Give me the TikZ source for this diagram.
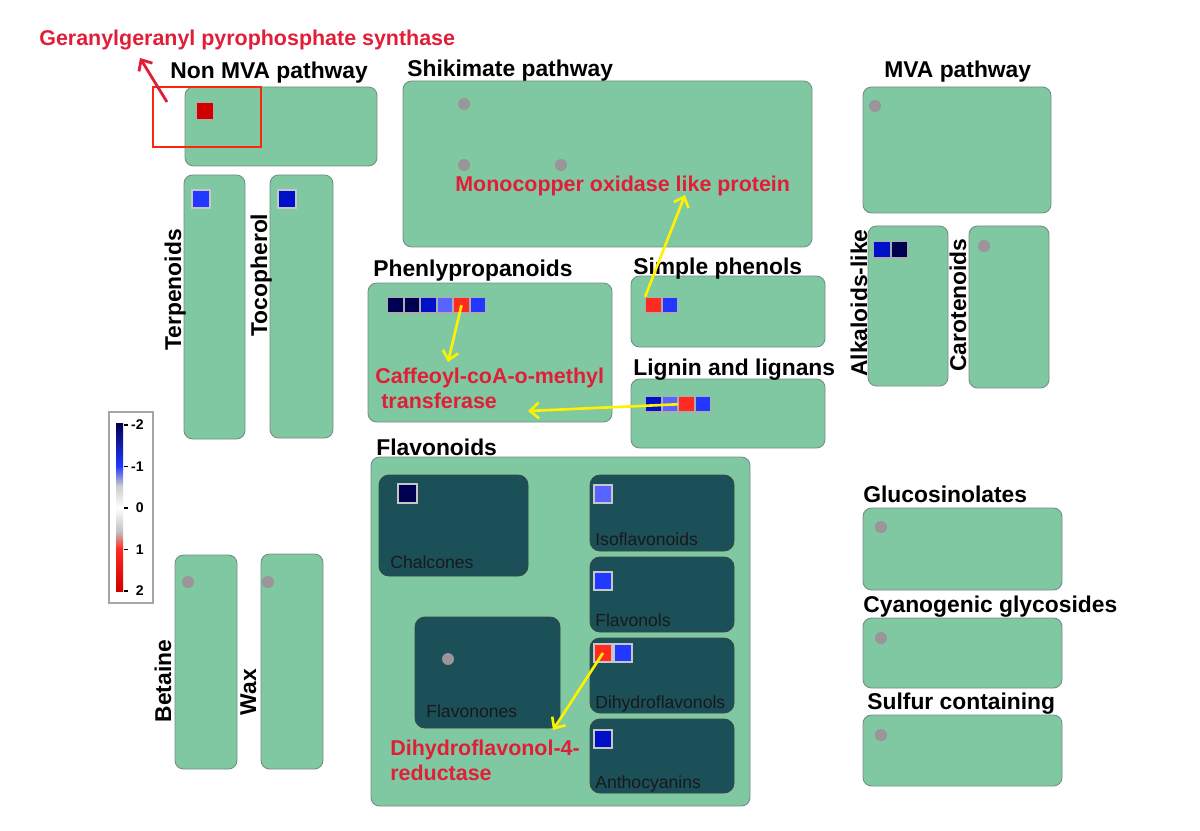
\documentclass[tikz,border=0pt]{standalone}
\usepackage{fontspec}
\setmainfont{Liberation Sans}
\usetikzlibrary{positioning,fit,arrows.meta}
\definecolor{boxgreen}{RGB}{127,200,162}
\definecolor{boxline}{RGB}{120,140,130}
\definecolor{darkteal}{RGB}{27,80,88}
\definecolor{dotgrey}{RGB}{155,148,152}
\definecolor{hitred}{RGB}{225,30,55}
\definecolor{framered}{RGB}{250,40,10}
\definecolor{navy}{RGB}{0,0,80}
\definecolor{darkblue}{RGB}{0,16,200}
\definecolor{midblue}{RGB}{32,56,255}
\definecolor{lightblue}{RGB}{88,100,255}
\definecolor{upred}{RGB}{255,42,32}
\definecolor{deepred}{RGB}{208,0,0}
\begin{document}
\begin{tikzpicture}[x=0.02cm,y=-0.02cm,
  pbox/.style={draw=boxline,fill=boxgreen,rounded corners=0.17cm,inner sep=0pt,line width=0.5pt},
  sub box/.style={draw=boxline!50!black,fill=darkteal,rounded corners=0.2cm,inner sep=0pt,line width=0.5pt},
  path label/.style={font=\fontsize{13}{15}\selectfont\bfseries,inner sep=0pt},
  sub label/.style={font=\fontsize{10}{12}\selectfont,text=black!90,inner sep=0pt,anchor=base west},
  hit label/.style={font=\fontsize{12.2}{14}\selectfont\bfseries,text=hitred,inner sep=0pt,anchor=base west},
  gene/.style={draw=gray!65,line width=0.6pt,minimum size=0.31cm,inner sep=0pt},
  big gene/.style={gene,draw=gray!45,line width=1.1pt,minimum size=0.36cm},
  no hit/.style={circle,fill=dotgrey,minimum size=0.24cm,inner sep=0pt},
  hit arrow/.style={draw=yellow,line width=1.5pt,-{Straight Barb[length=5pt,width=9pt]}}]
\useasboundingbox (0,0) rectangle (1200,831);

% Non MVA pathway
\node[pbox,fit={(185,87) (377,166)}] (nonmva) {};
\node[path label,anchor=base west] at (170,79) {Non MVA pathway};
\node[gene,minimum size=0.34cm,fill=deepred,anchor=north west] (ggps) at (196,102) {};
\node[draw=framered,line width=1.5pt,inner sep=0pt,fit={(153,87) (261,147)}] (ggpsframe) {};
\node[hit label] (ggpstext) at (39,46) {Geranylgeranyl pyrophosphate synthase};

% Shikimate pathway
\node[pbox,fit={(403,81) (812,247)}] (shikimate) {};
\node[path label,anchor=base west] at (407,77) {Shikimate pathway};
\node[no hit] (sk1) at (464,104) {};
\node[no hit] (sk2) at (464,165) {};
\node[no hit] (sk3) at (561,165) {};
\node[hit label] (mco) at (455,192) {Monocopper oxidase like protein};

% MVA pathway
\node[pbox,fit={(863,87) (1051,213)}] (mva) {};
\node[path label,anchor=base west] at (884,78) {MVA pathway};
\node[no hit] (mv1) at (875,106) {};

% Terpenoids, Tocopherol
\node[pbox,fit={(184,175) (245,439)}] (terp) {};
\node[path label,rotate=90,anchor=base] at (181,290) {Terpenoids};
\node[big gene,fill=midblue,anchor=north west] (tp1) at (191,189) {};
\node[pbox,fit={(270,175) (333,438)}] (toco) {};
\node[path label,rotate=90,anchor=base] at (267,275) {Tocopherol};
\node[big gene,fill=darkblue,anchor=north west] (tc1) at (277,189) {};

% colour key
\node[draw=gray!70,line width=0.6pt,inner sep=0pt,fit={(109,412) (153,603)}] (key) {};
\shade[top color=navy,bottom color=midblue] (116,423) rectangle (123,466);
\shade[top color=midblue,bottom color=gray!40] (116,466) rectangle (123,486);
\shade[top color=gray!40,bottom color=white] (116,486) rectangle (123,508);
\shade[top color=white,bottom color=gray!50] (116,508) rectangle (123,532);
\shade[top color=gray!50,bottom color=upred] (116,532) rectangle (123,549);
\shade[top color=upred,bottom color=deepred] (116,549) rectangle (123,591);
\foreach \v/\yy in {-2/425,-1/466.5,0/508,1/549.5,2/591} {
  \draw[line width=0.8pt] (124,\yy) -- (128,\yy);
  \node[font=\fontsize{8}{9}\selectfont\bfseries,anchor=east,inner sep=0pt] at (144,\yy) {\v};
}

% Betaine, Wax
\node[pbox,fit={(175,555) (237,769)}] (betaine) {};
\node[path label,rotate=90,anchor=base] at (171,681) {Betaine};
\node[no hit] (bt1) at (188,582) {};
\node[pbox,fit={(261,554) (323,769)}] (wax) {};
\node[path label,rotate=90,anchor=base] at (256,692) {Wax};
\node[no hit] (wx1) at (268,582) {};

% Phenlypropanoids
\node[pbox,fit={(368,283) (612,422)}] (phenly) {};
\node[path label,anchor=base west] at (373,276) {Phenlypropanoids};
\node[gene,fill=navy,anchor=north west] (p1) at (387,297) {};
\node[gene,fill=navy,right=0pt of p1] (p2) {};
\node[gene,fill=darkblue,right=0pt of p2] (p3) {};
\node[gene,fill=lightblue,right=0pt of p3] (p4) {};
\node[gene,fill=upred,right=0pt of p4] (p5) {};
\node[gene,fill=midblue,right=0pt of p5] (p6) {};
\node[hit label] (ccoa1) at (375,383) {Caffeoyl-coA-o-methyl};
\node[hit label] (ccoa2) at (381,408) {transferase};

% Simple phenols
\node[pbox,fit={(631,276) (825,347)}] (simple) {};
\node[path label,anchor=base west] at (633,275) {Simple phenols};
\node[gene,fill=upred,anchor=north west] (sp1) at (645,297) {};
\node[gene,fill=midblue,right=0pt of sp1] (sp2) {};

% Lignin and lignans
\node[pbox,fit={(631,379) (825,448)}] (lignin) {};
\node[path label,anchor=base west] at (633,375) {Lignin and lignans};
\node[gene,fill=darkblue,anchor=north west] (l1) at (645,396) {};
\node[gene,fill=lightblue,right=0pt of l1] (l2) {};
\node[gene,fill=upred,right=0pt of l2] (l3) {};
\node[gene,fill=midblue,right=0pt of l3] (l4) {};

% Alkaloids-like, Carotenoids
\node[pbox,fit={(868,226) (948,386)}] (alkaloid) {};
\node[path label,rotate=90,anchor=base] at (867,303) {Alkaloids-like};
\node[gene,minimum size=0.33cm,fill=darkblue,anchor=north west] (ak1) at (873,241) {};
\node[gene,minimum size=0.33cm,fill=navy,right=0pt of ak1] (ak2) {};
\node[pbox,fit={(969,226) (1049,388)}] (carot) {};
\node[path label,rotate=90,anchor=base] at (966,305) {Carotenoids};
\node[no hit] (ct1) at (984,246) {};

% Flavonoids
\node[pbox,fit={(371,457) (750,806)}] (flavonoids) {};
\node[path label,anchor=base west] at (376,455) {Flavonoids};
\node[sub box,fit={(379,475) (528,576)}] (chalcones) {};
\node[big gene,minimum size=0.38cm,fill=navy,anchor=north west] (ch1) at (397,483) {};
\node[sub label] at (390,568) {Chalcones};
\node[sub box,fit={(590,475) (734,551)}] (isoflav) {};
\node[big gene,fill=lightblue,anchor=north west] (if1) at (593,484) {};
\node[sub label] at (595,545) {Isoflavonoids};
\node[sub box,fit={(590,557) (734,632)}] (flavonols) {};
\node[big gene,fill=midblue,anchor=north west] (fl1) at (593,571) {};
\node[sub label] at (595,626) {Flavonols};
\node[sub box,fit={(590,638) (734,713)}] (dihydro) {};
\node[big gene,fill=upred,anchor=north west] (dh1) at (593,643) {};
\node[big gene,fill=midblue,right=0pt of dh1] (dh2) {};
\node[sub label] at (595,708) {Dihydroflavonols};
\node[sub box,fit={(590,719) (734,793)}] (antho) {};
\node[big gene,fill=darkblue,anchor=north west] (an1) at (593,729) {};
\node[sub label] at (595,788) {Anthocyanins};
\node[sub box,fit={(415,617) (560,728)}] (flavonones) {};
\node[no hit] (fn1) at (448,659) {};
\node[sub label] at (426,717) {Flavonones};
\node[hit label] (dfr1) at (390,755) {Dihydroflavonol-4-};
\node[hit label] (dfr2) at (390,780) {reductase};

% Glucosinolates, Cyanogenic glycosides, Sulfur containing
\node[pbox,fit={(863,508) (1062,590)}] (gluco) {};
\node[path label,anchor=base west] at (863,502) {Glucosinolates};
\node[no hit] (gc1) at (881,527) {};
\node[pbox,fit={(863,618) (1062,688)}] (cyano) {};
\node[path label,anchor=base west] at (863,612) {Cyanogenic glycosides};
\node[no hit] (cy1) at (881,638) {};
\node[pbox,fit={(863,715) (1062,786)}] (sulfur) {};
\node[path label,anchor=base west] at (867,709) {Sulfur containing};
\node[no hit] (sf1) at (881,735) {};

% arrows to the annotated genes
\coordinate (ggpstail) at (167,102);
\coordinate (ggpstip) at (140,58);
\coordinate (mcotip) at (685,195);
\coordinate (ccoatip) at (448,362);
\coordinate (ccoatip2) at (528,411);
\coordinate (dfrtip) at (553,730);
\draw[draw=hitred,line width=1.6pt,-{Straight Barb[length=5pt,width=9pt]}] (ggpstail) -- (ggpstip);
\draw[hit arrow] (sp1.north west) -- (mcotip);
\draw[hit arrow] (p5.center) -- (ccoatip);
\draw[hit arrow] (l3.west) -- (ccoatip2);
\draw[hit arrow] (dh1.center) -- (dfrtip);
\end{tikzpicture}
\end{document}
